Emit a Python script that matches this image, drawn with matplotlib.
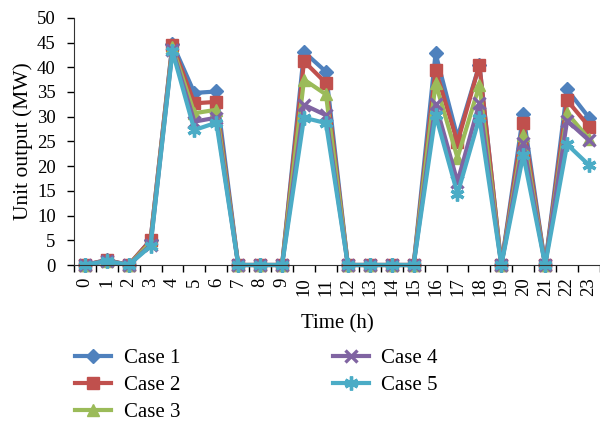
import numpy as np
import matplotlib
matplotlib.use("Agg")
import matplotlib.pyplot as plt
from matplotlib.ticker import FixedLocator

plt.rcParams['font.family'] = ['Liberation Serif', 'DejaVu Serif']

hours = list(range(24))
case1 = [0, 1, 0, 5, 44.8, 34.8, 35.1, 0, 0, 0, 43.1, 39.1, 0, 0, 0, 0, 42.8, 25.8, 40.5, 0, 30.5, 0, 35.5, 29.8]
case2 = [0, 1, 0, 5, 44.5, 32.7, 33.0, 0, 0, 0, 41.2, 36.8, 0, 0, 0, 0, 39.5, 24.8, 40.5, 0, 28.7, 0, 33.3, 28.0]
case3 = [0, 0.8, 0, 4.5, 44.0, 30.7, 31.4, 0, 0, 0, 37.5, 34.5, 0, 0, 0, 0, 36.8, 21.7, 36.4, 0, 26.3, 0, 30.7, 25.5]
case4 = [0, 0.8, 0, 4, 43.5, 29.0, 29.8, 0, 0, 0, 32.4, 30.3, 0, 0, 0, 0, 32.6, 16.8, 32.8, 0, 24.6, 0, 29.2, 25.2]
case5 = [0, 0.8, 0, 3.8, 43.2, 27.3, 28.8, 0, 0, 0, 29.8, 28.7, 0, 0, 0, 0, 30.4, 14.4, 29.8, 0, 22.3, 0, 24.4, 20.2]

series = [case1, case2, case3, case4, case5]
names = ["Case 1", "Case 2", "Case 3", "Case 4", "Case 5"]
colors = ["#4F81BD", "#C0504D", "#9BBB59", "#8064A2", "#4BACC6"]
markers = ["D", "s", "^", "x", (6, 2, 0)]
sizes = [7.5, 8.5, 9, 9, 10]

fig = plt.figure(figsize=(6, 4.24), dpi=100)
ax = fig.add_axes([0.123, 0.375, 0.877, 0.583])

for y, n, c, m, s in zip(series, names, colors, markers, sizes):
    ax.plot(hours, y, color=c, lw=3.0, marker=m, ms=s, mew=2.4 if m in ("x", (6, 2, 0)) else 1,
            mec=c, mfc=c, label=n, clip_on=False)

ax.set_xlim(-0.5, 23.5)
ax.set_ylim(0, 50)
ax.set_yticks(range(0, 51, 5))
ax.set_xticks(hours)
ax.set_xticklabels([str(h) for h in hours], rotation=90)
ax.xaxis.set_minor_locator(FixedLocator(np.arange(-0.5, 24, 1)))
ax.tick_params(axis='x', which='major', length=0, pad=9, labelsize=13.5)
ax.tick_params(axis='x', which='minor', length=5, direction='out', width=1)
ax.tick_params(axis='y', length=5, direction='out', width=1, labelsize=13.5, pad=8)

for side in ("top", "right"):
    ax.spines[side].set_visible(False)
ax.spines['left'].set_color('#333333')
ax.spines['bottom'].set_color('#333333')

ax.set_ylabel("Unit output (MW)", fontsize=15.5, labelpad=3)
ax.set_xlabel("Time (h)", fontsize=15, labelpad=13)

fig.legend(loc='upper left', bbox_to_anchor=(0.125, 0.178), ncol=2, frameon=False,
           fontsize=15, handlelength=1.75, columnspacing=7.3, labelspacing=0.36,
           handletextpad=0.6, borderaxespad=0, borderpad=0)

fig.savefig("out.png", dpi=100)
